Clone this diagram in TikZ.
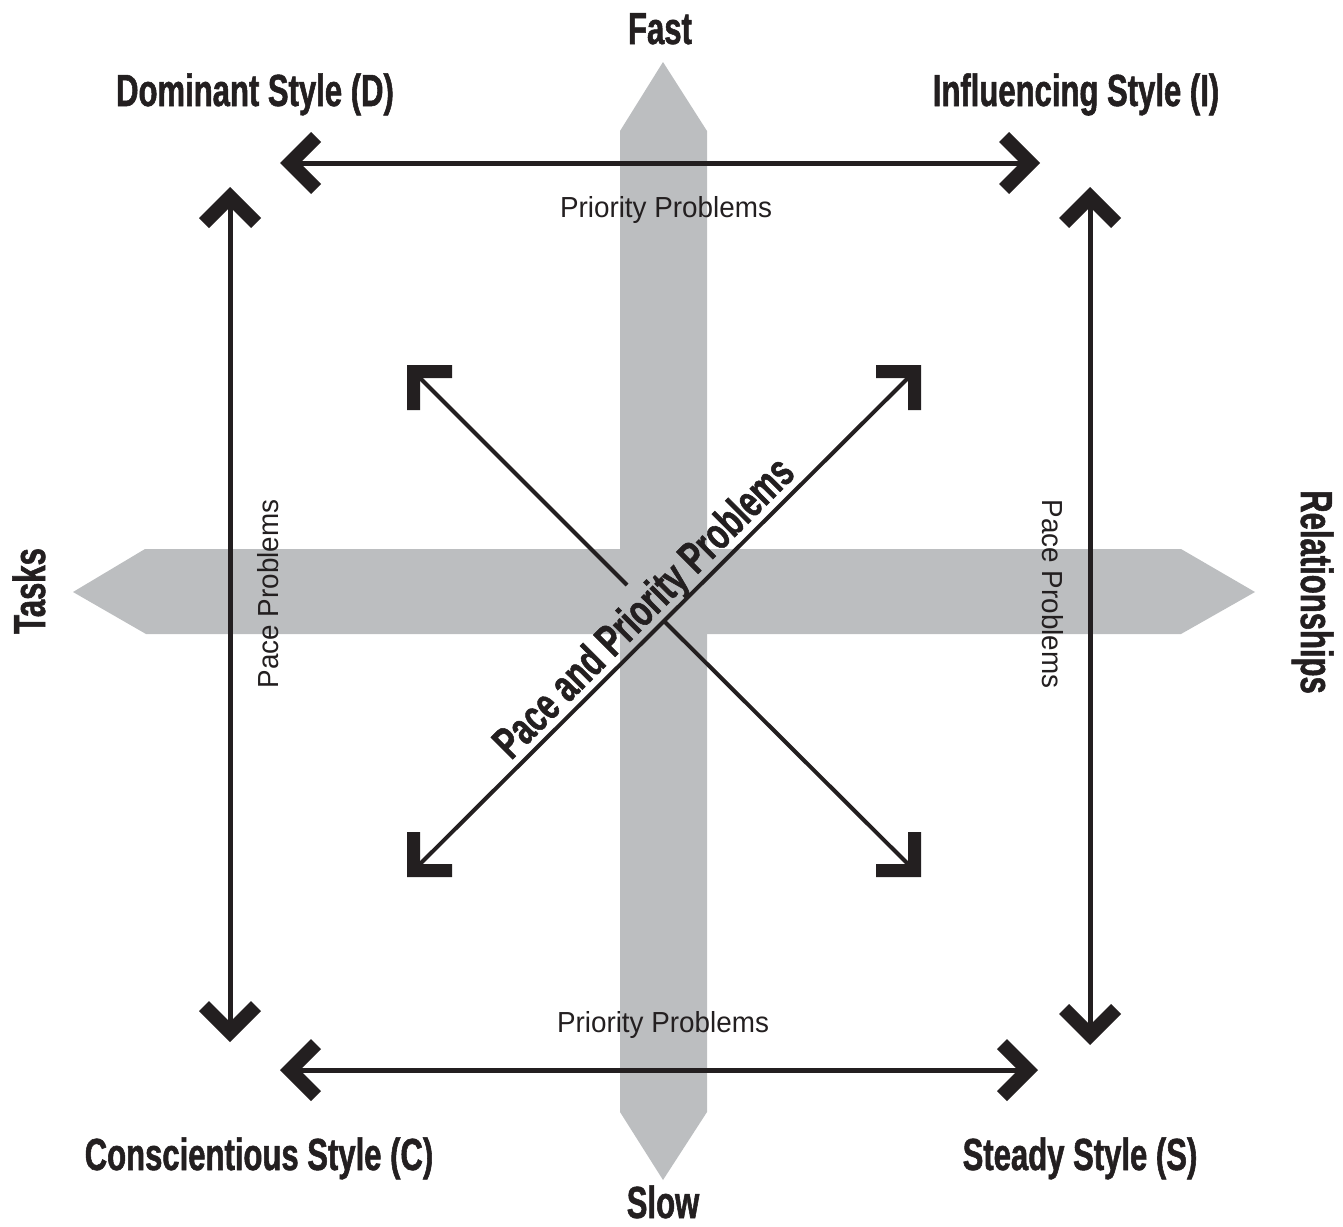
\documentclass[tikz,border=0pt]{standalone}
\usepackage{fontspec}
\newfontfamily\condbf{Liberation Sans Bold}[FakeStretch=0.69,FakeBold=1.2]
\newfontfamily\regsans{Liberation Sans}[FakeStretch=0.96]
\definecolor{barg}{HTML}{BCBEC0}
\definecolor{ink}{HTML}{231F20}
% chevron: #1 tip coordinate, (#2,#3) unit vector pointing from tip into the shaft
\newcommand\chevron[3]{%
  \fill[ink] (#1) -- +({31*(#2)-31*(#3)},{31*(#3)-31*(#2)})
    -- +({41*(#2)-21*(#3)},{41*(#3)-21*(#2)})
    -- +({20*(#2)},{20*(#3)})
    -- +({41*(#2)+21*(#3)},{41*(#3)+21*(#2)})
    -- +({31*(#2)+31*(#3)},{31*(#3)+31*(#2)}) -- cycle;}
% L-corner: #1 outer corner, (#2,#3) signs of arm directions
\newcommand\lcorner[3]{%
  \fill[ink] (#1) -- +({45*(#2)},0) -- +({45*(#2)},{13*(#3)})
    -- +({13*(#2)},{13*(#3)}) -- +({13*(#2)},{45*(#3)}) -- +(0,{45*(#3)}) -- cycle;}
\begin{document}
\begin{tikzpicture}[x=1pt,y=-1pt,
  bigl/.style={font=\condbf\fontsize{45}{50}\selectfont, text=ink, inner sep=0pt},
  smalll/.style={font=\regsans\fontsize{29}{32}\selectfont, text=ink, inner sep=0pt},
  shaft/.style={draw=ink, line width=5pt, shorten <=12pt, shorten >=12pt},
  diag/.style={draw=ink, line width=4pt}]
\useasboundingbox (0,0) rectangle (1343,1226);
% gray axes
\fill[barg] (620,131) -- (663,62) -- (707,131) -- (707,1112) -- (663,1180) -- (620,1112) -- cycle;
\fill[barg] (145,549) -- (73,592) -- (146,634) -- (1181,634) -- (1255,592) -- (1181,549) -- cycle;
% arrow tips
\coordinate (tL) at (280,163);
\coordinate (tR) at (1040,163);
\coordinate (bL) at (280,1070);
\coordinate (bR) at (1038,1070);
\coordinate (lT) at (230,187);
\coordinate (lB) at (230,1042);
\coordinate (rT) at (1090,187);
\coordinate (rB) at (1090,1045);
\path[shaft] (tL) -- (tR);
\path[shaft] (bL) -- (bR);
\path[shaft] (lT) -- (lB);
\path[shaft] (rT) -- (rB);
\chevron{tL}{1}{0}
\chevron{tR}{-1}{0}
\chevron{bL}{1}{0}
\chevron{bR}{-1}{0}
\chevron{lT}{0}{1}
\chevron{lB}{0}{-1}
\chevron{rT}{0}{1}
\chevron{rB}{0}{-1}
% diagonal arrows
\coordinate (cTL) at (407,365);
\coordinate (cTR) at (921,365);
\coordinate (cBL) at (407,877);
\coordinate (cBR) at (921,877);
\coordinate (dTL) at (418,376);
\coordinate (dTR) at (910,376);
\coordinate (dBL) at (418,866);
\coordinate (dBR) at (910,866);
\coordinate (gapA) at (627,585);
\coordinate (gapB) at (665,622);
\path[diag] (dBL) -- (dTR);
\path[diag] (dTL) -- (gapA);
\path[diag] (gapB) -- (dBR);
\lcorner{cTL}{1}{1}
\lcorner{cTR}{-1}{1}
\lcorner{cBL}{1}{-1}
\lcorner{cBR}{-1}{-1}
% labels
\node[bigl, anchor=base] (fast) at (660,44) {Fast};
\node[bigl, anchor=base] (slow) at (663,1218) {Slow};
\node[bigl, anchor=base] (dom) at (255,106) {Dominant Style (D)};
\node[bigl, anchor=base] (inf) at (1076,106) {Influencing Style (I)};
\node[bigl, anchor=base] (con) at (259,1170) {Conscientious Style (C)};
\node[bigl, anchor=base] (ste) at (1080,1170) {Steady Style (S)};
\node[bigl, anchor=base, rotate=90] (tasks) at (45,591) {Tasks};
\node[bigl, anchor=base, rotate=-90] (rel) at (1301,592) {Relationships};
\node[bigl, anchor=base, rotate=45] (ppp) at (654,618) {Pace and Priority Problems};
\node[smalll, anchor=base] (prT) at (666,217) {Priority Problems};
\node[smalll, anchor=base] (prB) at (663,1032) {Priority Problems};
\node[smalll, anchor=base, rotate=90] (paL) at (278,594) {Pace Problems};
\node[smalll, anchor=base, rotate=-90] (paR) at (1042,594) {Pace Problems};
\end{tikzpicture}
\end{document}
